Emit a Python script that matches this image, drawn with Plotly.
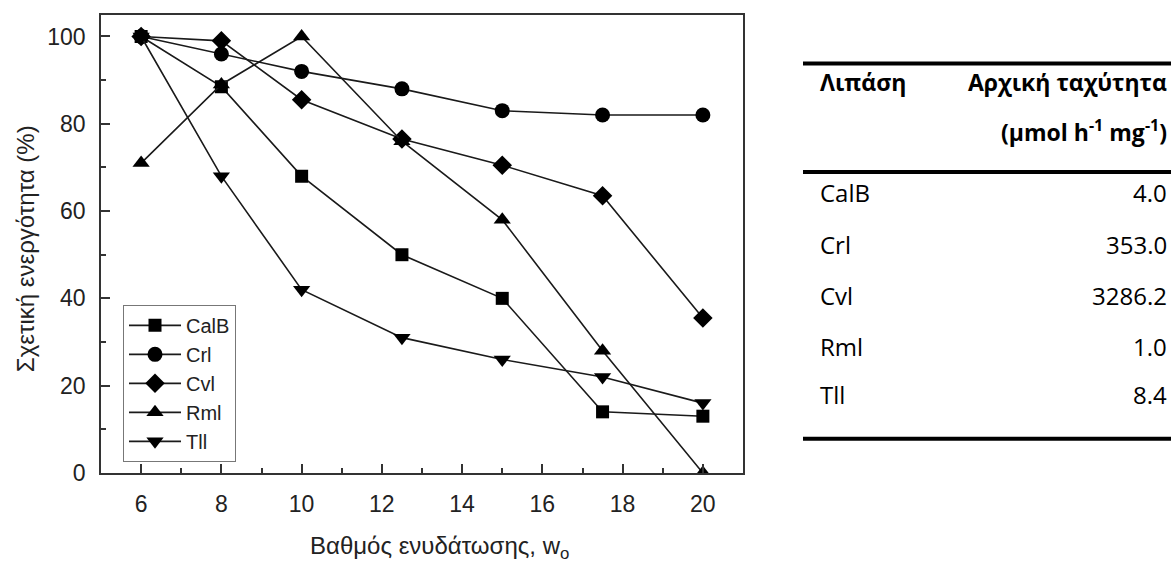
import plotly.graph_objects as go

# ---- data ----
w0 = [6, 8, 10, 12.5, 15, 17.5, 20]
calb = [100, 88.5, 68, 50, 40, 14, 13]
crl = [100, 96, 92, 88, 83, 82, 82]
cvl = [100, 99, 85.5, 76.5, 70.5, 63.5, 35.5]
rml = [71, 89, 100, 76, 58, 28, 0]
tll = [100, 68, 42, 31, 26, 22, 16]

series_names = ["CalB", "Crl", "Cvl", "Rml", "Tll"]
series_values = [calb, crl, cvl, rml, tll]
series_symbols = ["square", "circle", "diamond", "triangle-up", "triangle-down"]
series_sizes = [13, 15, 15, 15, 15]

x_ticks = [6, 8, 10, 12, 14, 16, 18, 20]
y_ticks = [0, 20, 40, 60, 80, 100]

table_lipases = ["CalB", "Crl", "Cvl", "Rml", "Tll"]
table_rates = ["4.0", "353.0", "3286.2", "1.0", "8.4"]
table_header = ["Λιπάση", "Αρχική ταχύτητα", "(μmol h<sup>-1</sup> mg<sup>-1</sup>)"]

W, H = 1171, 569
def px(x):
    return x / W
def py(y):
    return 1 - y / H

fig = go.Figure()
for name, vals, sym, sz in zip(series_names, series_values, series_symbols, series_sizes):
    fig.add_trace(go.Scatter(
        x=w0, y=vals, name=name, mode="lines+markers",
        line=dict(color="#1a1a1a", width=1.6),
        marker=dict(symbol=sym, size=sz, color="#000000", line=dict(width=0)),
    ))

axis_font = dict(family="Liberation Sans, Arial, sans-serif", size=23, color="#222222")

fig.update_layout(
    width=W, height=H,
    margin=dict(l=0, r=0, t=0, b=0),
    paper_bgcolor="white", plot_bgcolor="white",
    showlegend=True,
    legend=dict(
        x=px(123), y=py(312), xanchor="left", yanchor="top",
        bgcolor="white", bordercolor="#777777", borderwidth=1,
        font=dict(family="Liberation Sans, Arial, sans-serif", size=20, color="#222222"),
        tracegroupgap=0, itemwidth=52,
    ),
    xaxis=dict(
        domain=[px(101), px(743)], range=[5, 21],
        tickmode="array", tickvals=x_ticks, ticktext=[str(v) for v in x_ticks],
        ticks="inside", ticklen=9, tickwidth=1.5, tickcolor="#333333",
        minor=dict(ticks="inside", ticklen=5, tickwidth=1.5, tickcolor="#333333", dtick=1, tick0=5),
        showline=True, linecolor="#333333", linewidth=1.8, mirror=True,
        showgrid=False, zeroline=False, tickfont=axis_font,
        ticklabelstandoff=10,
    ),
    yaxis=dict(
        domain=[py(484), py(15)], range=[0, 105],
        tickmode="array", tickvals=y_ticks, ticktext=[str(v) for v in y_ticks],
        ticks="inside", ticklen=9, tickwidth=1.5, tickcolor="#333333",
        minor=dict(ticks="inside", ticklen=5, tickwidth=1.5, tickcolor="#333333", dtick=10, tick0=0),
        showline=True, linecolor="#333333", linewidth=1.8, mirror=True,
        showgrid=False, zeroline=False, tickfont=axis_font,
        ticklabelstandoff=9,
    ),
)

annotations = []
# axis titles
annotations.append(dict(
    x=px(25), y=py(255), xref="paper", yref="paper", showarrow=False,
    text="Σχετική ενεργότητα (%)", textangle=-90,
    font=dict(family="Liberation Sans, Arial, sans-serif", size=24, color="#222222"),
    xanchor="center", yanchor="middle",
))
annotations.append(dict(
    x=px(308), y=py(560), xref="paper", yref="paper", showarrow=False,
    text="Βαθμός ενυδάτωσης, w<sub>o</sub>",
    font=dict(family="Liberation Sans, Arial, sans-serif", size=24, color="#222222"),
    xanchor="left", yanchor="middle",
))

# table
tfont = "Open Sans, Noto Sans, sans-serif"
annotations.append(dict(x=px(818), y=py(84), xref="paper", yref="paper", showarrow=False,
                        text="<b>" + table_header[0] + "</b>", xanchor="left", yanchor="middle",
                        font=dict(family=tfont, size=23, color="black")))
annotations.append(dict(x=px(1169), y=py(84), xref="paper", yref="paper", showarrow=False,
                        text="<b>" + table_header[1] + "</b>", xanchor="right", yanchor="middle",
                        font=dict(family=tfont, size=23, color="black")))
annotations.append(dict(x=px(1169), y=py(134), xref="paper", yref="paper", showarrow=False,
                        text="<b>" + table_header[2] + "</b>", xanchor="right", yanchor="middle",
                        font=dict(family=tfont, size=23, color="black")))
row_baselines = [206, 259, 311, 364, 413]
for name, rate, yb in zip(table_lipases, table_rates, row_baselines):
    yc = yb - 9
    annotations.append(dict(x=px(818), y=py(yc), xref="paper", yref="paper", showarrow=False,
                            text=name, xanchor="left", yanchor="middle",
                            font=dict(family=tfont, size=24, color="black")))
    annotations.append(dict(x=px(1169), y=py(yc), xref="paper", yref="paper", showarrow=False,
                            text=rate, xanchor="right", yanchor="middle",
                            font=dict(family=tfont, size=24, color="black")))

shapes = []
for yr in [65, 176, 449]:
    shapes.append(dict(type="line", xref="paper", yref="paper",
                       x0=px(803), x1=1.0, y0=py(yr), y1=py(yr),
                       line=dict(color="black", width=4)))

fig.update_layout(annotations=annotations, shapes=shapes)
fig.write_html(
    "out.html",
    config={"displayModeBar": False},
    post_script="document.body.style.margin='0';document.body.style.overflow='hidden';",
)
